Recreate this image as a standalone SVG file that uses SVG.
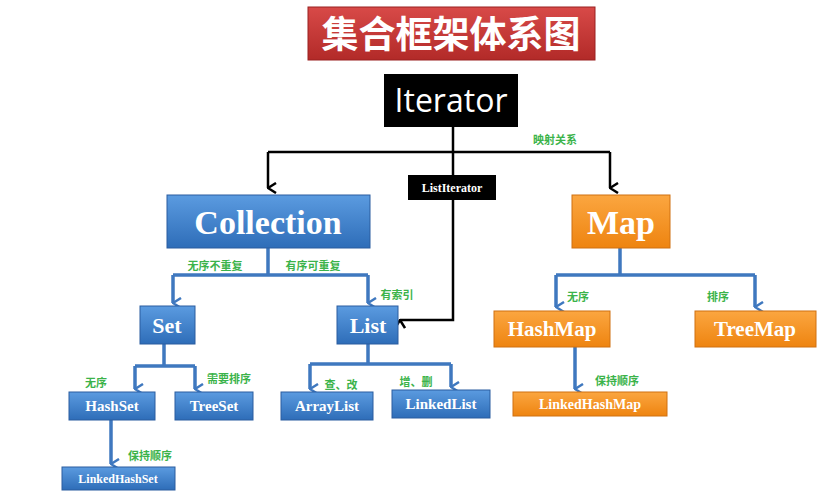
<svg xmlns="http://www.w3.org/2000/svg" width="821" height="495" viewBox="0 0 821 495">
<defs>
<linearGradient id="gb" x1="0" y1="0" x2="0" y2="1"><stop offset="0" stop-color="#5b9be0"/><stop offset="1" stop-color="#2e6db8"/></linearGradient>
<linearGradient id="go" x1="0" y1="0" x2="0" y2="1"><stop offset="0" stop-color="#fba640"/><stop offset="1" stop-color="#ee8410"/></linearGradient>
<linearGradient id="gr" x1="0" y1="0" x2="0" y2="1"><stop offset="0" stop-color="#d84a48"/><stop offset="1" stop-color="#b22a28"/></linearGradient>
<marker id="ab" viewBox="0 0 12 10" refX="6" refY="9" markerWidth="12" markerHeight="10" markerUnits="userSpaceOnUse" orient="auto-start-reverse"><path d="M1,1 L6,9 L11,1" fill="none" stroke="#3f78bf" stroke-width="2.5"/></marker>
<marker id="ak" viewBox="0 0 12 10" refX="6" refY="9" markerWidth="12" markerHeight="10" markerUnits="userSpaceOnUse" orient="auto"><path d="M1,1 L6,9 L11,1" fill="none" stroke="#000" stroke-width="2.5"/></marker>
<marker id="ako" viewBox="0 0 12 10" refX="6" refY="9" markerWidth="12" markerHeight="10" markerUnits="userSpaceOnUse" orient="auto"><path d="M1,1 L6,9 L11,1" fill="none" stroke="#000" stroke-width="2.5"/></marker>
</defs>
<style>
.b{fill:url(#gb);stroke:#2a5d9f;stroke-width:1}
.o{fill:url(#go);stroke:#d07010;stroke-width:1}
.t{fill:#fff;font-family:"Liberation Serif",serif;font-weight:bold;text-anchor:middle}
.l{fill:#3bb34a;font-family:"Noto Sans CJK SC",sans-serif;font-weight:bold;font-size:11px;text-anchor:middle}
.cb{fill:none;stroke:#3f78bf;stroke-width:3.5}
.ck{fill:none;stroke:#000;stroke-width:2.5}
</style>
<rect width="821" height="495" fill="#fff"/>
<g id="connectors">
<path class="ck" d="M268,152 H610"/>
<path class="ck" d="M268,152 V188" marker-end="url(#ak)"/>
<path class="ck" d="M610,152 V188" marker-end="url(#ak)"/>
<path class="ck" d="M453,127 V175"/>
<path class="ck" d="M453,200 V320 H400" marker-end="url(#ak)"/>
<path class="cb" d="M268,248 V275 M173,275 H368"/>
<path class="cb" d="M173,275 V303" marker-end="url(#ab)"/>
<path class="cb" d="M368,275 V303" marker-end="url(#ab)"/>
<path class="cb" d="M164,344 V366 M135,366 H195"/>
<path class="cb" d="M135,366 V389" marker-end="url(#ab)"/>
<path class="cb" d="M195,366 V389" marker-end="url(#ab)"/>
<path class="cb" d="M368,344 V364 M310,364 H451"/>
<path class="cb" d="M310,364 V389" marker-end="url(#ab)"/>
<path class="cb" d="M451,364 V387" marker-end="url(#ab)"/>
<path class="cb" d="M111,420 V464" marker-end="url(#ab)"/>
<path class="cb" d="M620,248 V275 M556,275 H755"/>
<path class="cb" d="M556,275 V307" marker-end="url(#ab)"/>
<path class="cb" d="M755,275 V307" marker-end="url(#ab)"/>
<path class="cb" d="M575,347 V389" marker-end="url(#ab)"/>
<text class="l" x="555" y="144">映射关系</text>
<text class="l" x="215" y="270">无序不重复</text>
<text class="l" x="313" y="270">有序可重复</text>
<text class="l" x="397" y="299">有索引</text>
<text class="l" x="96" y="387">无序</text>
<text class="l" x="229" y="383">需要排序</text>
<text class="l" x="341" y="389">查、改</text>
<text class="l" x="416" y="386">增、删</text>
<text class="l" x="150" y="460">保持顺序</text>
<text class="l" x="578" y="301">无序</text>
<text class="l" x="718" y="301">排序</text>
<text class="l" x="617" y="385">保持顺序</text>
</g>
<g id="title"><rect x="308" y="7" width="287" height="53" fill="url(#gr)" stroke="#9a2020"/><text x="451" y="48" fill="#fff" font-family="Noto Sans CJK SC,serif" font-weight="bold" font-size="37" text-anchor="middle">集合框架体系图</text></g>
<g id="Iterator"><rect x="384" y="74" width="134" height="53" fill="#000"/><text x="451" y="112" fill="#fff" font-family="'Open Sans',sans-serif" font-size="32" text-anchor="middle">Iterator</text></g>
<g id="ListIterator"><rect x="408" y="175" width="88" height="25" fill="#000"/><text x="452" y="192" fill="#fff" font-family="'Liberation Serif',serif" font-weight="bold" font-size="12" text-anchor="middle">ListIterator</text></g>
<g id="Collection"><rect class="b" x="167" y="195" width="203" height="53"/><text class="t" x="268" y="234" font-size="34">Collection</text></g>
<g id="Map"><rect class="o" x="572" y="195" width="98" height="53"/><text class="t" x="621" y="234" font-size="34">Map</text></g>
<g id="Set"><rect class="b" x="140" y="306" width="55" height="38"/><text class="t" x="167" y="333" font-size="22">Set</text></g>
<g id="List"><rect class="b" x="337" y="306" width="61" height="38"/><text class="t" x="368" y="333" font-size="22">List</text></g>
<g id="HashMap"><rect class="o" x="494" y="311" width="116" height="36"/><text class="t" x="552" y="336" font-size="21">HashMap</text></g>
<g id="TreeMap"><rect class="o" x="695" y="311" width="121" height="36"/><text class="t" x="755" y="336" font-size="21">TreeMap</text></g>
<g id="HashSet"><rect class="b" x="69" y="392" width="86" height="28"/><text class="t" x="112" y="411" font-size="15">HashSet</text></g>
<g id="TreeSet"><rect class="b" x="175" y="392" width="78" height="28"/><text class="t" x="214" y="411" font-size="15">TreeSet</text></g>
<g id="ArrayList"><rect class="b" x="281" y="392" width="92" height="28"/><text class="t" x="327" y="411" font-size="15">ArrayList</text></g>
<g id="LinkedList"><rect class="b" x="392" y="390" width="98" height="28"/><text class="t" x="441" y="409" font-size="15">LinkedList</text></g>
<g id="LinkedHashSet"><rect class="b" x="62" y="467" width="113" height="23"/><text class="t" x="118" y="483" font-size="12">LinkedHashSet</text></g>
<g id="LinkedHashMap"><rect class="o" x="513" y="392" width="154" height="24"/><text class="t" x="590" y="409" font-size="14">LinkedHashMap</text></g>
</svg>
